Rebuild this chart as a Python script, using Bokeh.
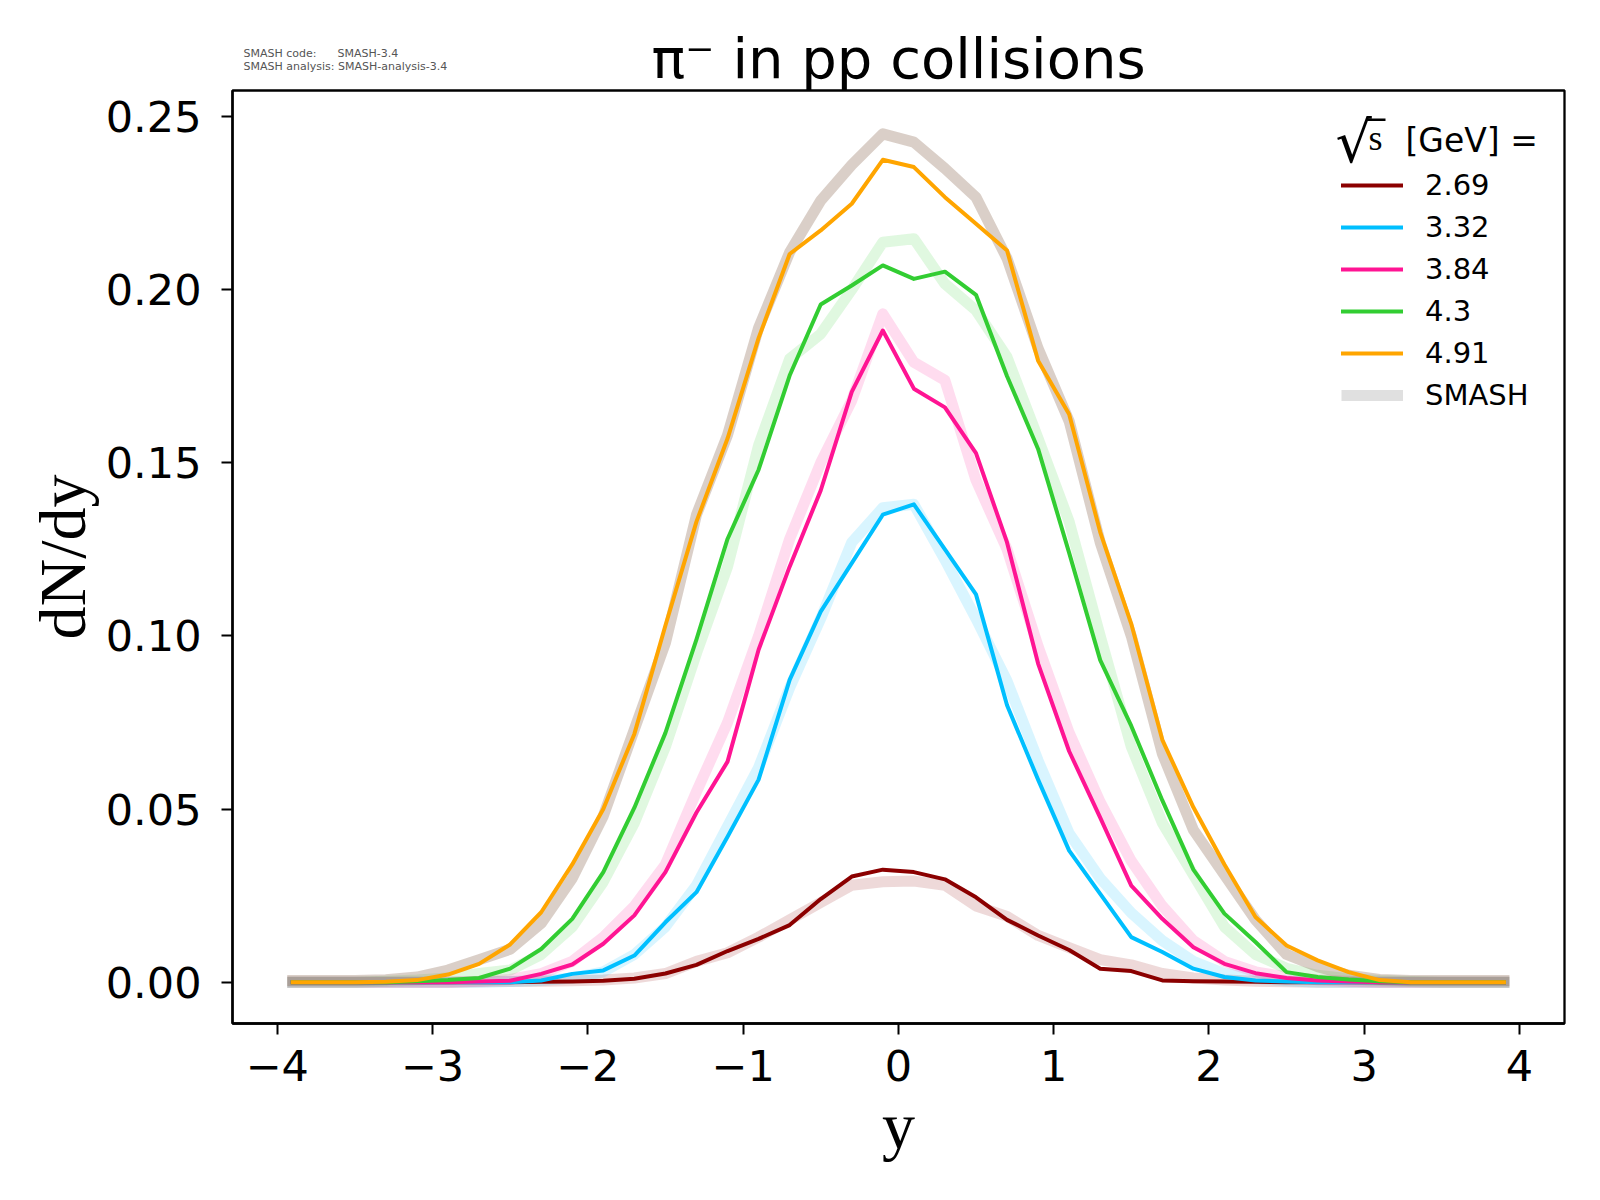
import numpy as np
from bokeh.plotting import figure
from bokeh.models import (Range1d, FixedTicker, PrintfTickFormatter, Label,
                          Legend, LegendItem, BoxAnnotation, Title)
from bokeh.embed import file_html
from bokeh.resources import INLINE

# rapidity bin centres
y_bins = [-3.9, -3.7, -3.5, -3.3, -3.1, -2.9, -2.7, -2.5, -2.3, -2.1,
          -1.9, -1.7, -1.5, -1.3, -1.1, -0.9, -0.7, -0.5, -0.3, -0.1,
          0.1, 0.3, 0.5, 0.7, 0.9, 1.1, 1.3, 1.5, 1.7, 1.9,
          2.1, 2.3, 2.5, 2.7, 2.9, 3.1, 3.3, 3.5, 3.7, 3.9]

energies = ["2.69", "3.32", "3.84", "4.3", "4.91"]
colors = ["#8b0000", "#00bfff", "#ff1493", "#32cd32", "#ffa500"]
band_colors = ["#8b0000", "#00bfff", "#ff1493", "#32cd32", "#846048"]
band_alphas = [0.15, 0.15, 0.15, 0.15, 0.3]

# thin lines (measured) dN/dy
line_269 = [0, 0, 0, 0, 0, 0, 0, 0, 0.0001, 0.0002, 0.0004, 0.0010, 0.0025, 0.0050, 0.0090,
            0.0125, 0.0165, 0.0240, 0.0305, 0.0325, 0.0318, 0.0297, 0.0245, 0.0180, 0.0135,
            0.0093, 0.0039, 0.0032, 0.0005, 0.0003, 0.0002, 0.0001, 0, 0, 0, 0, 0, 0, 0, 0]
line_332 = [0, 0, 0, 0, 0, 0, 0, 0, 0.0005, 0.0024, 0.0034, 0.0077, 0.0173, 0.0260, 0.0420,
            0.0585, 0.0873, 0.1070, 0.1210, 0.1350, 0.1380, 0.1250, 0.1120, 0.0800, 0.0585,
            0.0380, 0.0255, 0.0130, 0.0087, 0.0039, 0.0015, 0.0005, 0.0002, 0, 0, 0, 0, 0, 0, 0]
line_384 = [0, 0, 0, 0, 0, 0, 0.0002, 0.0004, 0.0024, 0.0051, 0.0111, 0.0193, 0.0318, 0.0490, 0.0637,
            0.0960, 0.1200, 0.1420, 0.1705, 0.1882, 0.1714, 0.1660, 0.1528, 0.1270, 0.0920,
            0.0667, 0.0475, 0.0279, 0.0183, 0.0101, 0.0053, 0.0026, 0.0012, 0.0005, 0.0002, 0, 0, 0, 0, 0]
line_430 = [0, 0, 0, 0, 0.0003, 0.0006, 0.0012, 0.0039, 0.0096, 0.0183, 0.0318, 0.0504, 0.0720, 0.0990, 0.1280,
            0.1480, 0.1752, 0.1957, 0.2012, 0.2070, 0.2031, 0.2052, 0.1985, 0.1750, 0.1540,
            0.1240, 0.0930, 0.0740, 0.0525, 0.0325, 0.0198, 0.0116, 0.0029, 0.0015, 0.0008, 0.0003, 0, 0, 0, 0]
line_491 = [0, 0, 0, 0.0001, 0.0006, 0.0022, 0.0053, 0.0109, 0.0202, 0.0340, 0.0500, 0.0717, 0.1030, 0.1330, 0.1570,
            0.1860, 0.2103, 0.2171, 0.2248, 0.2375, 0.2354, 0.2267, 0.2190, 0.2113, 0.1795,
            0.1640, 0.1300, 0.1035, 0.0700, 0.0505, 0.0340, 0.0188, 0.0106, 0.0063, 0.0029, 0.0006, 0, 0, 0, 0]

# SMASH bands
smash_269 = [0, 0, 0, 0, 0, 0, 0.0001, 0.0002, 0.0003, 0.0004, 0.0006, 0.0012, 0.0025, 0.0060, 0.0085,
             0.0130, 0.0180, 0.0230, 0.0280, 0.0290, 0.0292, 0.0280, 0.0220, 0.0190, 0.0135,
             0.0100, 0.0065, 0.0050, 0.0025, 0.0012, 0.0006, 0.0003, 0.0001, 0, 0, 0, 0, 0, 0, 0]
smash_332 = [0, 0, 0, 0, 0, 0, 0, 0.0002, 0.0005, 0.0012, 0.0030, 0.0080, 0.0160, 0.0280, 0.0450,
             0.0620, 0.0850, 0.1050, 0.1270, 0.1370, 0.1380, 0.1220, 0.1050, 0.0870, 0.0640,
             0.0430, 0.0300, 0.0200, 0.0120, 0.0060, 0.0025, 0.0010, 0.0004, 0, 0, 0, 0, 0, 0, 0]
smash_384 = [0, 0, 0, 0, 0, 0, 0.0003, 0.0008, 0.0025, 0.0060, 0.0130, 0.0220, 0.0340, 0.0550, 0.0750,
             0.1000, 0.1280, 0.1500, 0.1680, 0.1930, 0.1790, 0.1738, 0.1450, 0.1250, 0.0970,
             0.0720, 0.0520, 0.0350, 0.0220, 0.0120, 0.0060, 0.0030, 0.0015, 0.0007, 0.0003, 0, 0, 0, 0, 0]
smash_430 = [0, 0, 0, 0.0003, 0.0006, 0.0012, 0.0025, 0.0035, 0.0080, 0.0160, 0.0290, 0.0460, 0.0680, 0.0950, 0.1200,
             0.1550, 0.1800, 0.1872, 0.2000, 0.2137, 0.2147, 0.2017, 0.1940, 0.1805, 0.1570,
             0.1330, 0.1000, 0.0680, 0.0460, 0.0310, 0.0160, 0.0080, 0.0040, 0.0020, 0.0010, 0.0005, 0.0002, 0, 0, 0]
smash_491 = [0.0005, 0.0005, 0.0005, 0.0007, 0.0015, 0.0035, 0.0065, 0.0095, 0.0170, 0.0300, 0.0480, 0.0730, 0.0980, 0.1350, 0.1580,
             0.1890, 0.2108, 0.2257, 0.2360, 0.2450, 0.2426, 0.2350, 0.2267, 0.2090, 0.1830,
             0.1620, 0.1270, 0.1000, 0.0660, 0.0440, 0.0310, 0.0180, 0.0080, 0.0045, 0.0020, 0.0008, 0.0005, 0.0005, 0.0005, 0.0005]

lines = [line_269, line_332, line_384, line_430, line_491]
bands = [smash_269, smash_332, smash_384, smash_430, smash_491]

x_ticks = [-4, -3, -2, -1, 0, 1, 2, 3, 4]
y_ticks = [0.0, 0.05, 0.10, 0.15, 0.20, 0.25]

version_text = ("SMASH code:\u00a0\u00a0\u00a0\u00a0\u00a0\u00a0SMASH-3.4\n"
                "SMASH analysis: SMASH-analysis-3.4")

p = figure(width=1584, height=1184, output_backend="svg", toolbar_location=None,
           x_range=Range1d(-4.288, 4.29), y_range=Range1d(-0.01193, 0.25751),
           min_border_left=232, min_border_right=20, min_border_top=90, min_border_bottom=161)
p.title = Title(text="\u03c0\u207b in pp collisions", align="center",
                text_font="DejaVu Sans", text_font_size="56px", text_font_style="normal",
                text_color="black", standoff=-128)
p.add_layout(Title(text=version_text, align="left", offset=11, vertical_align="bottom",
                   text_font="DejaVu Sans", text_font_size="11px", text_font_style="normal",
                   text_color="#555555", standoff=36), "above")
p.xgrid.visible = False
p.ygrid.visible = False
p.outline_line_color = "black"
p.outline_line_width = 2.3
p.outline_line_alpha = 1.0
p.background_fill_color = "white"
p.border_fill_color = "white"

for ax in (p.xaxis[0], p.yaxis[0]):
    ax.axis_line_width = 2.3
    ax.axis_line_color = "black"
    ax.major_tick_in = 0
    ax.major_tick_out = 11
    ax.major_tick_line_width = 2
    ax.minor_tick_in = 0
    ax.minor_tick_out = 0
    ax.major_label_text_font = "DejaVu Sans"
    ax.major_label_text_font_size = "43px"
    ax.major_label_text_color = "black"
    ax.axis_label_text_font = "Liberation Serif"
    ax.axis_label_text_font_style = "normal"
    ax.axis_label_text_font_size = "66px"
    ax.axis_label_text_color = "black"

p.xaxis.ticker = FixedTicker(ticks=x_ticks)
p.xaxis.major_label_overrides = {t: (("\u2212%d" % -t) if t < 0 else str(t)) for t in x_ticks}
p.xaxis.major_label_standoff = 15
p.xaxis.axis_label = "y"
p.xaxis.axis_label_standoff = 5
p.yaxis.ticker = FixedTicker(ticks=y_ticks)
p.yaxis.formatter = PrintfTickFormatter(format="%.2f")
p.yaxis.major_label_standoff = 20
p.yaxis.axis_label = "dN/dy"
p.yaxis.axis_label_standoff = 4

# SMASH bands first
for vals, c, a in zip(bands, band_colors, band_alphas):
    p.line(y_bins, vals, line_width=11, line_color=c, line_alpha=a,
           line_cap="square", line_join="round")

line_renderers = []
for vals, c in zip(lines, colors):
    r = p.line(y_bins, vals, line_width=4, line_color=c,
               line_cap="square", line_join="round")
    line_renderers.append(r)

# legend proxy for the SMASH bands (no visible data)
smash_proxy = p.line(x=[np.nan], y=[np.nan], line_width=11, line_color="#e0e0e0")

items = [LegendItem(label=e, renderers=[r]) for e, r in zip(energies, line_renderers)]
items.append(LegendItem(label="SMASH", renderers=[smash_proxy]))
legend = Legend(items=items, location=(1109, 611), glyph_width=62, glyph_height=34,
                label_height=34, label_standoff=22, spacing=8, padding=0, margin=0,
                border_line_alpha=0, background_fill_alpha=0,
                label_text_font="DejaVu Sans", label_text_font_size="29px",
                label_text_color="black")
p.add_layout(legend)

# legend header: sqrt(s) [GeV] =
p.add_layout(Label(x=1103, y=882, x_units="screen", y_units="screen", text="\u221a",
                   text_font="DejaVu Serif", text_font_size="57px", text_align="left",
                   text_baseline="alphabetic", text_color="black"))
p.add_layout(Label(x=1136, y=886, x_units="screen", y_units="screen", text="s",
                   text_font="Liberation Serif", text_font_size="36px", text_align="left",
                   text_baseline="alphabetic", text_color="black"))
p.add_layout(BoxAnnotation(left=1134, right=1153, top=905, bottom=902.5,
                           left_units="screen", right_units="screen",
                           top_units="screen", bottom_units="screen",
                           fill_color="black", fill_alpha=1, line_alpha=0))
p.add_layout(Label(x=1173, y=883, x_units="screen", y_units="screen", text="[GeV] =",
                   text_font="DejaVu Sans", text_font_size="33px", text_align="left",
                   text_baseline="alphabetic", text_color="black"))

open("out.html", "w").write(file_html(p, INLINE))
